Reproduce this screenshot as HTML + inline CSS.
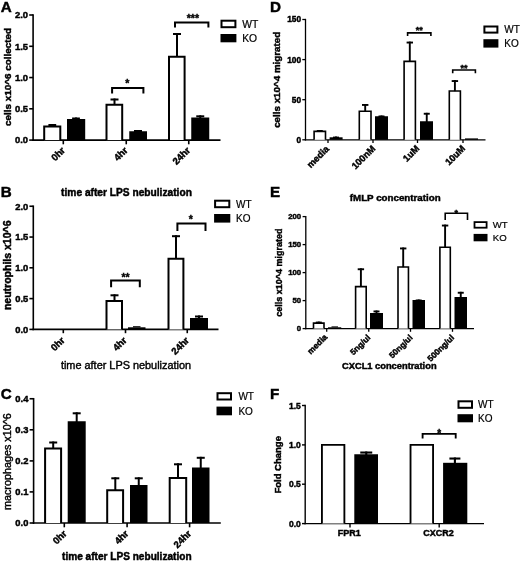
<!DOCTYPE html>
<html><head><meta charset="utf-8"><title>Figure</title>
<style>
html,body{margin:0;padding:0;background:#fff;}
svg{display:block;font-family:"Liberation Sans", Arial, sans-serif;fill:#000;}
</style></head>
<body>
<svg width="520" height="561" viewBox="0 0 520 561">
<defs><filter id="soft" x="0" y="0" width="520" height="561" filterUnits="userSpaceOnUse"><feGaussianBlur stdDeviation="0.4"/></filter></defs>
<rect width="520" height="561" fill="#fff"/>
<g filter="url(#soft)">
<rect width="520" height="561" fill="#fff"/>
<text x="0.8" y="12.2" font-size="15.2" font-weight="bold" text-anchor="start" stroke="#000" stroke-width="0.45">A</text>
<line x1="33.1" y1="14.2" x2="33.1" y2="140.9" stroke="#000" stroke-width="1.6"/>
<line x1="32.3" y1="140.1" x2="220.5" y2="140.1" stroke="#000" stroke-width="1.6"/>
<line x1="29.2" y1="15" x2="33.1" y2="15" stroke="#000" stroke-width="1.6"/>
<text x="28" y="18.37" font-size="9.4" font-weight="bold" text-anchor="end" stroke="#000" stroke-width="0.45">2.0</text>
<line x1="29.2" y1="46.3" x2="33.1" y2="46.3" stroke="#000" stroke-width="1.6"/>
<text x="28" y="49.67" font-size="9.4" font-weight="bold" text-anchor="end" stroke="#000" stroke-width="0.45">1.5</text>
<line x1="29.2" y1="77.55" x2="33.1" y2="77.55" stroke="#000" stroke-width="1.6"/>
<text x="28" y="80.92" font-size="9.4" font-weight="bold" text-anchor="end" stroke="#000" stroke-width="0.45">1.0</text>
<line x1="29.2" y1="108.8" x2="33.1" y2="108.8" stroke="#000" stroke-width="1.6"/>
<text x="28" y="112.17" font-size="9.4" font-weight="bold" text-anchor="end" stroke="#000" stroke-width="0.45">0.5</text>
<line x1="29.2" y1="140.1" x2="33.1" y2="140.1" stroke="#000" stroke-width="1.6"/>
<text x="28" y="143.47" font-size="9.4" font-weight="bold" text-anchor="end" stroke="#000" stroke-width="0.45">0.0</text>
<line x1="63.3" y1="140.1" x2="63.3" y2="144.3" stroke="#000" stroke-width="1.6"/>
<line x1="126.25" y1="140.1" x2="126.25" y2="144.3" stroke="#000" stroke-width="1.6"/>
<line x1="188.75" y1="140.1" x2="188.75" y2="144.3" stroke="#000" stroke-width="1.6"/>
<text x="10.9" y="77" font-size="9.9" font-weight="bold" text-anchor="middle" transform="rotate(-90 10.9 77)" stroke="#000" stroke-width="0.45">cells x10^6 collected</text>
<path d="M44.2,140.1 V126.4 H60.3 V140.1" fill="#fff" stroke="#000" stroke-width="2.0" stroke-linejoin="miter"/>
<line x1="52.3" y1="126.4" x2="52.3" y2="124" stroke="#000" stroke-width="2.0"/>
<line x1="48.4" y1="125.0" x2="56.2" y2="125.0" stroke="#000" stroke-width="2.0"/>
<rect x="67" y="119" width="18.2" height="21.1" fill="#000"/>
<line x1="76" y1="120.0" x2="76" y2="117.5" stroke="#000" stroke-width="2.0"/>
<line x1="72.1" y1="118.5" x2="79.9" y2="118.5" stroke="#000" stroke-width="2.0"/>
<path d="M106.5,140.1 V104.75 H122.2 V140.1" fill="#fff" stroke="#000" stroke-width="2.0" stroke-linejoin="miter"/>
<line x1="114.5" y1="104.75" x2="114.5" y2="98.5" stroke="#000" stroke-width="2.0"/>
<line x1="110.5" y1="99.5" x2="118.5" y2="99.5" stroke="#000" stroke-width="2.0"/>
<rect x="129.25" y="131.25" width="17.75" height="8.85" fill="#000"/>
<line x1="138" y1="132.25" x2="138" y2="130" stroke="#000" stroke-width="2.0"/>
<line x1="134.0" y1="131.0" x2="142.0" y2="131.0" stroke="#000" stroke-width="2.0"/>
<path d="M169.0,140.1 V56.8 H184.6 V140.1" fill="#fff" stroke="#000" stroke-width="2.0" stroke-linejoin="miter"/>
<line x1="177" y1="56.8" x2="177" y2="33" stroke="#000" stroke-width="2.0"/>
<line x1="173.0" y1="34.0" x2="181.0" y2="34.0" stroke="#000" stroke-width="2.0"/>
<rect x="191.25" y="117.5" width="18.0" height="22.6" fill="#000"/>
<line x1="200.25" y1="118.5" x2="200.25" y2="115.3" stroke="#000" stroke-width="2.0"/>
<line x1="196.25" y1="116.3" x2="204.25" y2="116.3" stroke="#000" stroke-width="2.0"/>
<polyline points="112.1,93.6 112.1,88 143.4,88 143.4,93.6" fill="none" stroke="#000" stroke-width="2.0" stroke-linejoin="miter"/>
<text x="127.2" y="86.8" font-size="10.5" font-weight="bold" text-anchor="middle" stroke="#000" stroke-width="0.4">*</text>
<polyline points="175,27.6 175,22.5 208.4,22.5 208.4,27.6" fill="none" stroke="#000" stroke-width="2.0" stroke-linejoin="miter"/>
<text x="192.9" y="22.4" font-size="10.5" font-weight="bold" text-anchor="middle" stroke="#000" stroke-width="0.4">***</text>
<rect x="221.5" y="20.7" width="13.9" height="6.5" fill="#fff" stroke="#000" stroke-width="2.0"/>
<rect x="220.5" y="34" width="15.9" height="8.3" fill="#000"/>
<text x="242.2" y="27.7" font-size="10.3" font-weight="normal" text-anchor="start" stroke="#000" stroke-width="0.2">WT</text>
<text x="242.2" y="42" font-size="10.3" font-weight="normal" text-anchor="start" stroke="#000" stroke-width="0.2">KO</text>
<text x="65.7" y="151" font-size="9.6" font-weight="bold" text-anchor="end" transform="rotate(-45 65.7 151)" stroke="#000" stroke-width="0.45">0hr</text>
<text x="128.4" y="151" font-size="9.6" font-weight="bold" text-anchor="end" transform="rotate(-45 128.4 151)" stroke="#000" stroke-width="0.45">4hr</text>
<text x="190.9" y="151" font-size="9.6" font-weight="bold" text-anchor="end" transform="rotate(-45 190.9 151)" stroke="#000" stroke-width="0.45">24hr</text>
<text x="0.8" y="196.6" font-size="15.2" font-weight="bold" text-anchor="start" stroke="#000" stroke-width="0.45">B</text>
<text x="126.5" y="195.8" font-size="10.2" font-weight="bold" text-anchor="middle" stroke="#000" stroke-width="0.45">time after LPS nebulization</text>
<line x1="33.3" y1="205.45" x2="33.3" y2="330.2" stroke="#000" stroke-width="1.6"/>
<line x1="32.5" y1="329.4" x2="218.5" y2="329.4" stroke="#000" stroke-width="1.6"/>
<line x1="29.4" y1="206.25" x2="33.3" y2="206.25" stroke="#000" stroke-width="1.6"/>
<text x="28.3" y="209.62" font-size="9.4" font-weight="bold" text-anchor="end" stroke="#000" stroke-width="0.45">2.0</text>
<line x1="29.4" y1="237.05" x2="33.3" y2="237.05" stroke="#000" stroke-width="1.6"/>
<text x="28.3" y="240.42" font-size="9.4" font-weight="bold" text-anchor="end" stroke="#000" stroke-width="0.45">1.5</text>
<line x1="29.4" y1="267.8" x2="33.3" y2="267.8" stroke="#000" stroke-width="1.6"/>
<text x="28.3" y="271.17" font-size="9.4" font-weight="bold" text-anchor="end" stroke="#000" stroke-width="0.45">1.0</text>
<line x1="29.4" y1="298.6" x2="33.3" y2="298.6" stroke="#000" stroke-width="1.6"/>
<text x="28.3" y="301.97" font-size="9.4" font-weight="bold" text-anchor="end" stroke="#000" stroke-width="0.45">0.5</text>
<line x1="29.4" y1="329.4" x2="33.3" y2="329.4" stroke="#000" stroke-width="1.6"/>
<text x="28.3" y="332.77" font-size="9.4" font-weight="bold" text-anchor="end" stroke="#000" stroke-width="0.45">0.0</text>
<line x1="63.3" y1="329.4" x2="63.3" y2="333.2" stroke="#000" stroke-width="1.6"/>
<line x1="125.5" y1="329.4" x2="125.5" y2="333.2" stroke="#000" stroke-width="1.6"/>
<line x1="187.25" y1="329.4" x2="187.25" y2="333.2" stroke="#000" stroke-width="1.6"/>
<text x="11" y="265.3" font-size="10.5" font-weight="bold" text-anchor="middle" transform="rotate(-90 11 265.3)" stroke="#000" stroke-width="0.45">neutrophils x10^6</text>
<path d="M106.5,329.4 V301.0 H122.0 V329.4" fill="#fff" stroke="#000" stroke-width="2.0" stroke-linejoin="miter"/>
<line x1="114.5" y1="301.0" x2="114.5" y2="294.3" stroke="#000" stroke-width="2.0"/>
<line x1="110.5" y1="295.3" x2="118.5" y2="295.3" stroke="#000" stroke-width="2.0"/>
<rect x="128" y="327.3" width="17.5" height="2.1" fill="#000"/>
<line x1="133" y1="326.8" x2="140.5" y2="326.8" stroke="#000" stroke-width="1.2"/>
<path d="M168.5,329.4 V258.8 H183.4 V329.4" fill="#fff" stroke="#000" stroke-width="2.0" stroke-linejoin="miter"/>
<line x1="176" y1="258.8" x2="176" y2="235.2" stroke="#000" stroke-width="2.0"/>
<line x1="172.0" y1="236.2" x2="180.0" y2="236.2" stroke="#000" stroke-width="2.0"/>
<rect x="190" y="318" width="18" height="11.4" fill="#000"/>
<line x1="199" y1="319.0" x2="199" y2="315.5" stroke="#000" stroke-width="2.0"/>
<line x1="195.0" y1="316.5" x2="203.0" y2="316.5" stroke="#000" stroke-width="2.0"/>
<polyline points="111.1,287.3 111.1,280.4 139.8,280.4 139.8,287.3" fill="none" stroke="#000" stroke-width="2.0" stroke-linejoin="miter"/>
<text x="125.5" y="281.2" font-size="10.5" font-weight="bold" text-anchor="middle" stroke="#000" stroke-width="0.4">**</text>
<polyline points="177.4,231.1 177.4,223.5 205.5,223.5 205.5,231.1" fill="none" stroke="#000" stroke-width="2.0" stroke-linejoin="miter"/>
<text x="190.8" y="223.4" font-size="10.5" font-weight="bold" text-anchor="middle" stroke="#000" stroke-width="0.4">*</text>
<rect x="215.1" y="200.7" width="14.2" height="6.5" fill="#fff" stroke="#000" stroke-width="2.0"/>
<rect x="214.1" y="214" width="16.2" height="8.6" fill="#000"/>
<text x="236.1" y="207.6" font-size="10" font-weight="normal" text-anchor="start" stroke="#000" stroke-width="0.2">WT</text>
<text x="236.1" y="221.8" font-size="10" font-weight="normal" text-anchor="start" stroke="#000" stroke-width="0.2">KO</text>
<text x="65.3" y="341" font-size="9.6" font-weight="bold" text-anchor="end" transform="rotate(-45 65.3 341)" stroke="#000" stroke-width="0.45">0hr</text>
<text x="127.4" y="341" font-size="9.6" font-weight="bold" text-anchor="end" transform="rotate(-45 127.4 341)" stroke="#000" stroke-width="0.45">4hr</text>
<text x="189.7" y="341" font-size="9.6" font-weight="bold" text-anchor="end" transform="rotate(-45 189.7 341)" stroke="#000" stroke-width="0.45">24hr</text>
<text x="126" y="368.8" font-size="10.9" font-weight="normal" text-anchor="middle" stroke="#000" stroke-width="0.4">time after LPS nebulization</text>
<text x="0.8" y="399" font-size="15.2" font-weight="bold" text-anchor="start" stroke="#000" stroke-width="0.45">C</text>
<line x1="33.6" y1="397.95" x2="33.6" y2="523.8" stroke="#000" stroke-width="1.6"/>
<line x1="32.8" y1="523" x2="220.8" y2="523" stroke="#000" stroke-width="1.6"/>
<line x1="29.6" y1="398.75" x2="33.6" y2="398.75" stroke="#000" stroke-width="1.6"/>
<text x="28.4" y="402.12" font-size="9.4" font-weight="bold" text-anchor="end" stroke="#000" stroke-width="0.45">0.4</text>
<line x1="29.6" y1="429.8" x2="33.6" y2="429.8" stroke="#000" stroke-width="1.6"/>
<text x="28.4" y="433.17" font-size="9.4" font-weight="bold" text-anchor="end" stroke="#000" stroke-width="0.45">0.3</text>
<line x1="29.6" y1="460.9" x2="33.6" y2="460.9" stroke="#000" stroke-width="1.6"/>
<text x="28.4" y="464.27" font-size="9.4" font-weight="bold" text-anchor="end" stroke="#000" stroke-width="0.45">0.2</text>
<line x1="29.6" y1="491.9" x2="33.6" y2="491.9" stroke="#000" stroke-width="1.6"/>
<text x="28.4" y="495.27" font-size="9.4" font-weight="bold" text-anchor="end" stroke="#000" stroke-width="0.45">0.1</text>
<line x1="29.6" y1="523" x2="33.6" y2="523" stroke="#000" stroke-width="1.6"/>
<text x="28.4" y="526.37" font-size="9.4" font-weight="bold" text-anchor="end" stroke="#000" stroke-width="0.45">0.0</text>
<line x1="64.3" y1="523" x2="64.3" y2="527.3" stroke="#000" stroke-width="1.6"/>
<line x1="127.1" y1="523" x2="127.1" y2="527.3" stroke="#000" stroke-width="1.6"/>
<line x1="189.6" y1="523" x2="189.6" y2="527.3" stroke="#000" stroke-width="1.6"/>
<text x="11" y="461.6" font-size="10.8" font-weight="normal" text-anchor="middle" transform="rotate(-90 11 461.6)" stroke="#000" stroke-width="0.4">macrophages x10^6</text>
<path d="M45.1,523 V448.5 H61.1 V523" fill="#fff" stroke="#000" stroke-width="2.0" stroke-linejoin="miter"/>
<line x1="53.2" y1="448.5" x2="53.2" y2="441.5" stroke="#000" stroke-width="2.0"/>
<line x1="49.2" y1="442.5" x2="57.2" y2="442.5" stroke="#000" stroke-width="2.0"/>
<rect x="67.7" y="421.25" width="18.0" height="101.75" fill="#000"/>
<line x1="76.7" y1="422.25" x2="76.7" y2="412.3" stroke="#000" stroke-width="2.0"/>
<line x1="72.7" y1="413.3" x2="80.7" y2="413.3" stroke="#000" stroke-width="2.0"/>
<path d="M107.2,523 V490.25 H123.1 V523" fill="#fff" stroke="#000" stroke-width="2.0" stroke-linejoin="miter"/>
<line x1="115.3" y1="490.25" x2="115.3" y2="477.3" stroke="#000" stroke-width="2.0"/>
<line x1="111.3" y1="478.3" x2="119.3" y2="478.3" stroke="#000" stroke-width="2.0"/>
<rect x="130" y="485" width="17.5" height="38" fill="#000"/>
<line x1="138.75" y1="486.0" x2="138.75" y2="477.3" stroke="#000" stroke-width="2.0"/>
<line x1="134.75" y1="478.3" x2="142.75" y2="478.3" stroke="#000" stroke-width="2.0"/>
<path d="M169.7,523 V478.0 H186.2 V523" fill="#fff" stroke="#000" stroke-width="2.0" stroke-linejoin="miter"/>
<line x1="178" y1="478.0" x2="178" y2="463.3" stroke="#000" stroke-width="2.0"/>
<line x1="174.0" y1="464.3" x2="182.0" y2="464.3" stroke="#000" stroke-width="2.0"/>
<rect x="192" y="467.5" width="17.5" height="55.5" fill="#000"/>
<line x1="200.75" y1="468.5" x2="200.75" y2="456.8" stroke="#000" stroke-width="2.0"/>
<line x1="196.75" y1="457.8" x2="204.75" y2="457.8" stroke="#000" stroke-width="2.0"/>
<rect x="217.5" y="393.2" width="13.5" height="6.3" fill="#fff" stroke="#000" stroke-width="2.0"/>
<rect x="216.5" y="406.6" width="15.5" height="8.7" fill="#000"/>
<text x="238.4" y="400" font-size="10" font-weight="normal" text-anchor="start" stroke="#000" stroke-width="0.2">WT</text>
<text x="238.4" y="414.8" font-size="10" font-weight="normal" text-anchor="start" stroke="#000" stroke-width="0.2">KO</text>
<text x="67.3" y="534.3" font-size="9.6" font-weight="bold" text-anchor="end" transform="rotate(-45 67.3 534.3)" stroke="#000" stroke-width="0.45">0hr</text>
<text x="129.1" y="534.3" font-size="9.6" font-weight="bold" text-anchor="end" transform="rotate(-45 129.1 534.3)" stroke="#000" stroke-width="0.45">4hr</text>
<text x="191.9" y="534.3" font-size="9.6" font-weight="bold" text-anchor="end" transform="rotate(-45 191.9 534.3)" stroke="#000" stroke-width="0.45">24hr</text>
<text x="126.8" y="560.3" font-size="10.1" font-weight="bold" text-anchor="middle" stroke="#000" stroke-width="0.45">time after LPS nebulization</text>
<text x="270" y="12.2" font-size="15.2" font-weight="bold" text-anchor="start" stroke="#000" stroke-width="0.45">D</text>
<line x1="305.5" y1="18.85" x2="305.5" y2="140.45" stroke="#000" stroke-width="1.3"/>
<line x1="304.85" y1="139.8" x2="485.5" y2="139.8" stroke="#000" stroke-width="1.3"/>
<line x1="302.3" y1="19.5" x2="305.5" y2="19.5" stroke="#000" stroke-width="1.3"/>
<text x="301" y="22.47" font-size="8.3" font-weight="bold" text-anchor="end" stroke="#000" stroke-width="0.45">150</text>
<line x1="302.3" y1="59.6" x2="305.5" y2="59.6" stroke="#000" stroke-width="1.3"/>
<text x="301" y="62.57" font-size="8.3" font-weight="bold" text-anchor="end" stroke="#000" stroke-width="0.45">100</text>
<line x1="302.3" y1="99.7" x2="305.5" y2="99.7" stroke="#000" stroke-width="1.3"/>
<text x="301" y="102.67" font-size="8.3" font-weight="bold" text-anchor="end" stroke="#000" stroke-width="0.45">50</text>
<line x1="302.3" y1="139.8" x2="305.5" y2="139.8" stroke="#000" stroke-width="1.3"/>
<text x="301" y="142.77" font-size="8.3" font-weight="bold" text-anchor="end" stroke="#000" stroke-width="0.45">0</text>
<line x1="328" y1="139.8" x2="328" y2="143.0" stroke="#000" stroke-width="1.3"/>
<line x1="373" y1="139.8" x2="373" y2="143.0" stroke="#000" stroke-width="1.3"/>
<line x1="417.5" y1="139.8" x2="417.5" y2="143.0" stroke="#000" stroke-width="1.3"/>
<line x1="463" y1="139.8" x2="463" y2="143.0" stroke="#000" stroke-width="1.3"/>
<text x="280.5" y="79.8" font-size="9.8" font-weight="bold" text-anchor="middle" transform="rotate(-90 280.5 79.8)" stroke="#000" stroke-width="0.45">cells x10^4 migrated</text>
<path d="M314.1,139.8 V131.4 H325.5 V139.8" fill="#fff" stroke="#000" stroke-width="1.6" stroke-linejoin="miter"/>
<line x1="319.8" y1="131.55" x2="319.8" y2="130" stroke="#000" stroke-width="1.9"/>
<line x1="316.8" y1="130.95" x2="322.8" y2="130.95" stroke="#000" stroke-width="1.9"/>
<rect x="329.6" y="137.3" width="13.0" height="2.5" fill="#000"/>
<line x1="336" y1="138.25" x2="336" y2="136.6" stroke="#000" stroke-width="1.9"/>
<line x1="333.0" y1="137.55" x2="339.0" y2="137.55" stroke="#000" stroke-width="1.9"/>
<path d="M359.3,139.8 V111.2 H371.0 V139.8" fill="#fff" stroke="#000" stroke-width="1.6" stroke-linejoin="miter"/>
<line x1="365.2" y1="111.35" x2="365.2" y2="104" stroke="#000" stroke-width="1.9"/>
<line x1="362.0" y1="104.95" x2="368.4" y2="104.95" stroke="#000" stroke-width="1.9"/>
<rect x="375" y="116.25" width="13" height="23.55" fill="#000"/>
<line x1="381.5" y1="117.2" x2="381.5" y2="115.5" stroke="#000" stroke-width="1.9"/>
<line x1="378.5" y1="116.45" x2="384.5" y2="116.45" stroke="#000" stroke-width="1.9"/>
<path d="M404.1,139.8 V61.4 H415.4 V139.8" fill="#fff" stroke="#000" stroke-width="1.6" stroke-linejoin="miter"/>
<line x1="409.8" y1="61.55" x2="409.8" y2="41.6" stroke="#000" stroke-width="1.9"/>
<line x1="406.6" y1="42.55" x2="413.0" y2="42.55" stroke="#000" stroke-width="1.9"/>
<rect x="420" y="121.25" width="13" height="18.55" fill="#000"/>
<line x1="426.75" y1="122.2" x2="426.75" y2="112.8" stroke="#000" stroke-width="1.9"/>
<line x1="423.75" y1="113.75" x2="429.75" y2="113.75" stroke="#000" stroke-width="1.9"/>
<path d="M449.3,139.8 V91.0 H460.4 V139.8" fill="#fff" stroke="#000" stroke-width="1.6" stroke-linejoin="miter"/>
<line x1="454.9" y1="91.15" x2="454.9" y2="80.1" stroke="#000" stroke-width="1.9"/>
<line x1="451.7" y1="81.05" x2="458.1" y2="81.05" stroke="#000" stroke-width="1.9"/>
<rect x="465" y="138.4" width="13" height="1.4" fill="#000"/>
<polyline points="407.6,35.9 407.6,32.9 430.9,32.9 430.9,35.9" fill="none" stroke="#000" stroke-width="1.6" stroke-linejoin="miter"/>
<text x="419.25" y="33.2" font-size="9" font-weight="bold" text-anchor="middle" stroke="#000" stroke-width="0.4">**</text>
<polyline points="452.7,73.2 452.7,70 475.4,70 475.4,73.2" fill="none" stroke="#000" stroke-width="1.6" stroke-linejoin="miter"/>
<text x="464.05" y="71.3" font-size="9" font-weight="bold" text-anchor="middle" stroke="#000" stroke-width="0.4">**</text>
<rect x="484.4" y="26.5" width="13.0" height="6.1" fill="#fff" stroke="#000" stroke-width="2.0"/>
<rect x="483.4" y="39.2" width="15" height="8.4" fill="#000"/>
<text x="504.3" y="33" font-size="10" font-weight="normal" text-anchor="start" stroke="#000" stroke-width="0.2">WT</text>
<text x="504.3" y="47.2" font-size="10" font-weight="normal" text-anchor="start" stroke="#000" stroke-width="0.2">KO</text>
<text x="329.7" y="149.5" font-size="9.3" font-weight="bold" text-anchor="end" transform="rotate(-45 329.7 149.5)" stroke="#000" stroke-width="0.45">media</text>
<text x="375.9" y="149.3" font-size="9.3" font-weight="bold" text-anchor="end" transform="rotate(-45 375.9 149.3)" stroke="#000" stroke-width="0.45">100nM</text>
<text x="419.9" y="149" font-size="9.3" font-weight="bold" text-anchor="end" transform="rotate(-45 419.9 149)" stroke="#000" stroke-width="0.45">1uM</text>
<text x="465.8" y="149" font-size="9.3" font-weight="bold" text-anchor="end" transform="rotate(-45 465.8 149)" stroke="#000" stroke-width="0.45">10uM</text>
<text x="270" y="196.6" font-size="15.2" font-weight="bold" text-anchor="start" stroke="#000" stroke-width="0.45">E</text>
<text x="395.2" y="201.3" font-size="9.75" font-weight="bold" text-anchor="middle" stroke="#000" stroke-width="0.45">fMLP concentration</text>
<line x1="305.8" y1="215.95" x2="305.8" y2="329.25" stroke="#000" stroke-width="1.3"/>
<line x1="305.15" y1="328.6" x2="474" y2="328.6" stroke="#000" stroke-width="1.3"/>
<line x1="302.6" y1="216.6" x2="305.8" y2="216.6" stroke="#000" stroke-width="1.3"/>
<text x="301.2" y="219.39" font-size="7.8" font-weight="bold" text-anchor="end" stroke="#000" stroke-width="0.45">200</text>
<line x1="302.6" y1="244.6" x2="305.8" y2="244.6" stroke="#000" stroke-width="1.3"/>
<text x="301.2" y="247.39" font-size="7.8" font-weight="bold" text-anchor="end" stroke="#000" stroke-width="0.45">150</text>
<line x1="302.6" y1="272.6" x2="305.8" y2="272.6" stroke="#000" stroke-width="1.3"/>
<text x="301.2" y="275.39" font-size="7.8" font-weight="bold" text-anchor="end" stroke="#000" stroke-width="0.45">100</text>
<line x1="302.6" y1="300.6" x2="305.8" y2="300.6" stroke="#000" stroke-width="1.3"/>
<text x="301.2" y="303.39" font-size="7.8" font-weight="bold" text-anchor="end" stroke="#000" stroke-width="0.45">50</text>
<line x1="302.6" y1="328.6" x2="305.8" y2="328.6" stroke="#000" stroke-width="1.3"/>
<text x="301.2" y="331.39" font-size="7.8" font-weight="bold" text-anchor="end" stroke="#000" stroke-width="0.45">0</text>
<line x1="326.7" y1="328.6" x2="326.7" y2="331.8" stroke="#000" stroke-width="1.3"/>
<line x1="368.75" y1="328.6" x2="368.75" y2="331.8" stroke="#000" stroke-width="1.3"/>
<line x1="410.5" y1="328.6" x2="410.5" y2="331.8" stroke="#000" stroke-width="1.3"/>
<line x1="452.5" y1="328.6" x2="452.5" y2="331.8" stroke="#000" stroke-width="1.3"/>
<text x="281.8" y="272.7" font-size="9.0" font-weight="bold" text-anchor="middle" transform="rotate(-90 281.8 272.7)" stroke="#000" stroke-width="0.45">cells x10^4 migrated</text>
<path d="M313.5,328.6 V323.1 H324.0 V328.6" fill="#fff" stroke="#000" stroke-width="1.6" stroke-linejoin="miter"/>
<line x1="318.8" y1="323.25" x2="318.8" y2="321.6" stroke="#000" stroke-width="1.9"/>
<line x1="315.8" y1="322.55" x2="321.8" y2="322.55" stroke="#000" stroke-width="1.9"/>
<rect x="328" y="327.3" width="13.25" height="1.3" fill="#000"/>
<line x1="331.5" y1="326.9" x2="338" y2="326.9" stroke="#000" stroke-width="1.0"/>
<path d="M355.6,328.6 V286.6 H366.2 V328.6" fill="#fff" stroke="#000" stroke-width="1.6" stroke-linejoin="miter"/>
<line x1="360.9" y1="286.75" x2="360.9" y2="268.3" stroke="#000" stroke-width="1.9"/>
<line x1="357.7" y1="269.25" x2="364.1" y2="269.25" stroke="#000" stroke-width="1.9"/>
<rect x="370" y="313" width="13" height="15.6" fill="#000"/>
<line x1="376.5" y1="313.95" x2="376.5" y2="310.5" stroke="#000" stroke-width="1.9"/>
<line x1="373.5" y1="311.45" x2="379.5" y2="311.45" stroke="#000" stroke-width="1.9"/>
<path d="M398.0,328.6 V267.0 H408.45 V328.6" fill="#fff" stroke="#000" stroke-width="1.6" stroke-linejoin="miter"/>
<line x1="403.2" y1="267.15" x2="403.2" y2="247.5" stroke="#000" stroke-width="1.9"/>
<line x1="400.0" y1="248.45" x2="406.4" y2="248.45" stroke="#000" stroke-width="1.9"/>
<rect x="412.5" y="300" width="12.5" height="28.6" fill="#000"/>
<line x1="418.7" y1="300.95" x2="418.7" y2="299.5" stroke="#000" stroke-width="1.9"/>
<line x1="415.7" y1="300.45" x2="421.7" y2="300.45" stroke="#000" stroke-width="1.9"/>
<path d="M439.9,328.6 V247.3 H450.3 V328.6" fill="#fff" stroke="#000" stroke-width="1.6" stroke-linejoin="miter"/>
<line x1="445.1" y1="247.45" x2="445.1" y2="224.6" stroke="#000" stroke-width="1.9"/>
<line x1="441.9" y1="225.55" x2="448.3" y2="225.55" stroke="#000" stroke-width="1.9"/>
<rect x="454.5" y="297" width="12.5" height="31.6" fill="#000"/>
<line x1="460.75" y1="297.95" x2="460.75" y2="291.8" stroke="#000" stroke-width="1.9"/>
<line x1="457.75" y1="292.75" x2="463.75" y2="292.75" stroke="#000" stroke-width="1.9"/>
<polyline points="445.2,220 445.2,213.2 467.5,213.2 467.5,220" fill="none" stroke="#000" stroke-width="1.6" stroke-linejoin="miter"/>
<text x="456.35" y="215.8" font-size="9" font-weight="bold" text-anchor="middle" stroke="#000" stroke-width="0.4">*</text>
<rect x="474.5" y="222.1" width="12.1" height="5.6" fill="#fff" stroke="#000" stroke-width="1.8"/>
<rect x="473.6" y="233.9" width="13.9" height="7.4" fill="#000"/>
<text x="492.8" y="228" font-size="9.6" font-weight="normal" text-anchor="start" stroke="#000" stroke-width="0.2">WT</text>
<text x="492.8" y="241.2" font-size="9.6" font-weight="normal" text-anchor="start" stroke="#000" stroke-width="0.2">KO</text>
<text x="327.8" y="337.7" font-size="8.3" font-weight="bold" text-anchor="end" transform="rotate(-45 327.8 337.7)" stroke="#000" stroke-width="0.45">media</text>
<text x="370.9" y="338.2" font-size="8.3" font-weight="bold" text-anchor="end" transform="rotate(-45 370.9 338.2)" stroke="#000" stroke-width="0.45">5ng/ul</text>
<text x="413.1" y="338.2" font-size="8.3" font-weight="bold" text-anchor="end" transform="rotate(-45 413.1 338.2)" stroke="#000" stroke-width="0.45">50ng/ul</text>
<text x="454.7" y="338.2" font-size="8.3" font-weight="bold" text-anchor="end" transform="rotate(-45 454.7 338.2)" stroke="#000" stroke-width="0.45">500ng/ul</text>
<text x="389.3" y="369.3" font-size="9.3" font-weight="bold" text-anchor="middle" stroke="#000" stroke-width="0.45">CXCL1 concentration</text>
<text x="270" y="399" font-size="15.2" font-weight="bold" text-anchor="start" stroke="#000" stroke-width="0.45">F</text>
<line x1="305.2" y1="404.8" x2="305.2" y2="524.3" stroke="#000" stroke-width="1.4"/>
<line x1="304.5" y1="523.6" x2="484" y2="523.6" stroke="#000" stroke-width="1.4"/>
<line x1="302" y1="405.5" x2="305.2" y2="405.5" stroke="#000" stroke-width="1.4"/>
<text x="300.8" y="408.54" font-size="8.5" font-weight="bold" text-anchor="end" stroke="#000" stroke-width="0.45">1.5</text>
<line x1="302" y1="444.9" x2="305.2" y2="444.9" stroke="#000" stroke-width="1.4"/>
<text x="300.8" y="447.94" font-size="8.5" font-weight="bold" text-anchor="end" stroke="#000" stroke-width="0.45">1.0</text>
<line x1="302" y1="484.2" x2="305.2" y2="484.2" stroke="#000" stroke-width="1.4"/>
<text x="300.8" y="487.24" font-size="8.5" font-weight="bold" text-anchor="end" stroke="#000" stroke-width="0.45">0.5</text>
<line x1="302" y1="523.6" x2="305.2" y2="523.6" stroke="#000" stroke-width="1.4"/>
<text x="300.8" y="526.64" font-size="8.5" font-weight="bold" text-anchor="end" stroke="#000" stroke-width="0.45">0.0</text>
<line x1="350" y1="523.6" x2="350" y2="527.6" stroke="#000" stroke-width="1.4"/>
<line x1="439.2" y1="523.6" x2="439.2" y2="527.6" stroke="#000" stroke-width="1.4"/>
<text x="281.5" y="464.8" font-size="9.5" font-weight="bold" text-anchor="middle" transform="rotate(-90 281.5 464.8)" stroke="#000" stroke-width="0.45">Fold Change</text>
<path d="M321.93,523.6 V444.82 H344.38 V523.6" fill="#fff" stroke="#000" stroke-width="1.85" stroke-linejoin="miter"/>
<rect x="354.3" y="454.25" width="23.7" height="69.35" fill="#000"/>
<line x1="366.25" y1="455.3" x2="366.25" y2="451.5" stroke="#000" stroke-width="2.1"/>
<line x1="360.25" y1="452.55" x2="372.25" y2="452.55" stroke="#000" stroke-width="2.1"/>
<path d="M410.53,523.6 V444.82 H433.07 V523.6" fill="#fff" stroke="#000" stroke-width="1.85" stroke-linejoin="miter"/>
<rect x="443.1" y="462.8" width="24.2" height="60.8" fill="#000"/>
<line x1="454.9" y1="463.85" x2="454.9" y2="457.5" stroke="#000" stroke-width="2.1"/>
<line x1="449.4" y1="458.55" x2="460.4" y2="458.55" stroke="#000" stroke-width="2.1"/>
<polyline points="422.6,438.6 422.6,433.8 455.7,433.8 455.7,438.6" fill="none" stroke="#000" stroke-width="1.85" stroke-linejoin="miter"/>
<text x="439.2" y="437.4" font-size="10" font-weight="bold" text-anchor="middle" stroke="#000" stroke-width="0.4">*</text>
<rect x="458.5" y="401.3" width="13.5" height="6.5" fill="#fff" stroke="#000" stroke-width="2.0"/>
<rect x="457.5" y="414.2" width="15.5" height="8.1" fill="#000"/>
<text x="478.1" y="408" font-size="10" font-weight="normal" text-anchor="start" stroke="#000" stroke-width="0.2">WT</text>
<text x="478.1" y="422" font-size="10" font-weight="normal" text-anchor="start" stroke="#000" stroke-width="0.2">KO</text>
<text x="349.3" y="536" font-size="9" font-weight="bold" text-anchor="middle" stroke="#000" stroke-width="0.45">FPR1</text>
<text x="438.5" y="536" font-size="9" font-weight="bold" text-anchor="middle" stroke="#000" stroke-width="0.45">CXCR2</text>
</g>
</svg>
</body></html>
